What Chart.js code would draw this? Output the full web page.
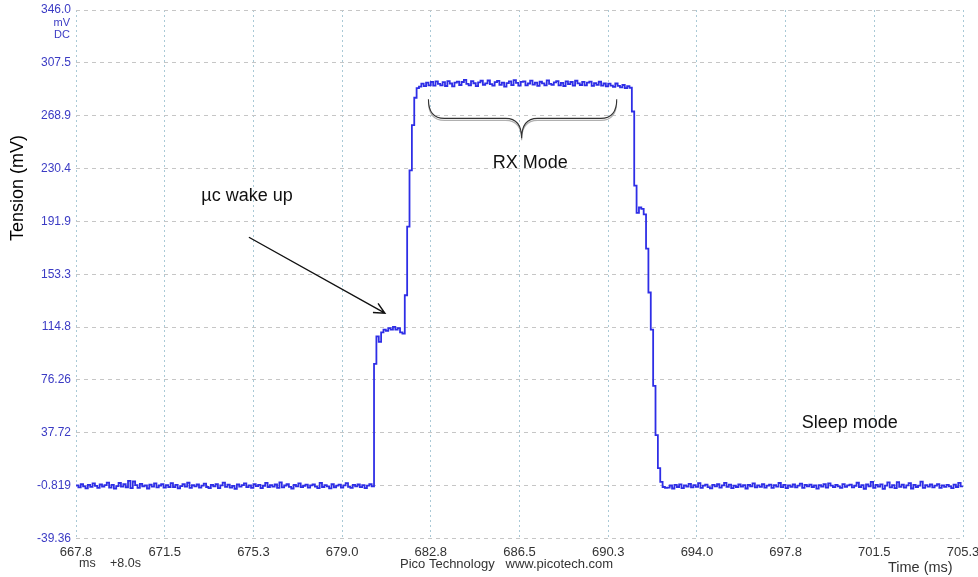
<!DOCTYPE html>
<html>
<head>
<meta charset="utf-8">
<title>Tension (mV)</title>
<script src="https://cdn.jsdelivr.net/npm/chart.js@4"></script>
<style>
  html, body { margin: 0; padding: 0; background: #fff; }
  canvas { display: block; }
</style>
</head>
<body>
<canvas id="scopeChart" width="978" height="577"></canvas>
<script>
// Capture settings (ms)
const SAMPLE_START = 667.8;
const SAMPLE_STEP = 0.1;
const X_MIN = 667.8, X_MAX = 705.3;
const Y_MIN = -39.36, Y_MAX = 346.0;

const xTickLabels = ['667.8', '671.5', '675.3', '679.0', '682.8', '686.5', '690.3', '694.0', '697.8', '701.5', '705.3'];
const yTickLabels = ['-39.36', '-0.819', '37.72', '76.26', '114.8', '153.3', '191.9', '230.4', '268.9', '307.5', '346.0'];

// Trace, in mV, one value per sample
const idleBefore = [
    -0.6, -2.1, 0.2, -1.4, -2.8, -0.3, -1.7, 0.9, -1.0, -2.5,
    0.1, -1.6, -0.5, 1.4, -2.3, -0.2, -3.0, -1.1, 1.1, -1.5,
    0.3, -2.0, 2.6, -2.7, 2.2, -0.4, -2.4, 0.4, -1.3, -0.6,
    -2.9, -0.1, -1.5, 0.8, -2.1, -0.7, 0.2, -2.3, -0.5, -1.8,
    1.0, -1.9, -0.2, -2.8, -1.2, 0.3, -1.6, 1.3, -2.5, -0.4,
    -1.4, 0.0, -2.2, -0.8, 0.7, -1.8, -2.7, -0.3, -1.3, 0.2,
    -2.6, -0.6, 1.4, -1.7, -0.1, -2.2, -1.0, -3.1, 0.1, -1.5,
    -0.5, 0.9, -1.9, -0.6, -2.4, 0.3, -1.2, -0.3, -2.7, -0.9,
    1.2, -1.8, -0.4, -1.5, 0.0, -2.5, 1.6, -2.1, -0.7, 0.2,
    -1.7, -2.9, -0.3, -1.4, 0.8, -1.9, -0.9, -0.1, -2.3, -0.6,
    0.0, -1.5, -2.6, 1.2, -1.8, -0.4, -1.3, -2.8, 0.3, -2.0,
    -0.8, -0.1, -2.2, -0.6, 1.0, -1.7, -2.5, -0.3, -1.3, 0.0,
    -1.9, -0.5, -2.7, -0.8, 0.2, -1.4
];
const wakeStep = [88, 108, 104, 111, 113, 112, 114, 113, 115, 113, 114, 111, 110];
const riseEdge = [138, 188, 229, 262, 282, 289];
const rxPlateau = [
    290.2, 292.3, 290.5, 293.1, 291.0, 293.6, 290.8, 293.9, 292.1, 291.0,
    293.4, 290.6, 294.2, 292.4, 290.3, 293.0, 293.8, 291.3, 293.5, 295.0,
    292.2, 291.0, 294.1, 292.6, 290.5, 293.3, 294.4, 291.5, 292.5, 294.6,
    292.0, 290.8, 293.4, 294.3, 291.4, 293.0, 290.2, 292.7, 293.9, 291.2,
    294.8, 292.8, 290.9, 293.6, 294.0, 291.1, 292.4, 294.5, 291.6, 293.0,
    290.7, 293.7, 292.5, 291.0, 294.7, 292.2, 291.4, 293.3, 294.2, 291.1,
    292.9, 290.6, 293.9, 292.0, 293.5, 290.9, 294.4, 292.5, 291.3, 293.6,
    291.0, 293.1, 293.8, 290.7, 292.7, 291.4, 293.7, 290.9, 292.4, 290.3,
    292.3, 290.8, 290.0, 292.4, 290.7, 289.6, 291.3, 289.0, 290.4, 289.3
];
const fallEdge = [272, 218, 198, 202, 201, 197, 172, 140, 113, 72, 36, 12, 2, -1.8, -2.5];
const sleepAfter = [
    -2.2, -0.7, -2.9, -0.2, -1.8, 0.1, -2.6, -0.6, -1.5, 0.4,
    -2.1, -0.4, -1.7, 1.0, -2.5, -0.8, -0.1, -1.9, -2.8, -0.3,
    -1.4, 0.2, -2.3, -0.6, 1.2, -1.7, -0.1, -2.6, -0.8, -1.8,
    0.0, -1.5, -0.4, -2.9, -0.2, -1.4, 0.8, -2.1, -0.6, -1.7,
    0.2, -2.2, -0.8, -0.1, -2.5, -0.5, -1.6, 1.1, -1.9, -0.3,
    -2.7, -0.6, -1.7, 0.0, -2.1, -0.8, 0.7, -2.4, -0.3, -1.4,
    -0.1, -1.8, -0.6, -3.0, -0.4, -1.6, 0.2, -2.2, 0.9, -0.8,
    -1.9, -0.2, -1.4, -2.5, 0.3, -1.7, -0.6, -0.1, -2.1, -0.9,
    1.3, -1.8, -0.4, -3.1, 0.0, -1.4, 1.9, -2.4, -0.3, -1.6,
    0.1, -3.2, -0.8, 1.5, -2.1, -0.5, -2.6, 1.7, -1.7, -0.1,
    -2.2, -0.6, 1.0, -2.9, -0.3, -1.8, -0.8, 2.1, -2.5, -0.4,
    -1.6, 0.0, -2.1, -0.8, 0.2, -2.4, -0.6, -1.7, -0.2, -1.4,
    -2.6, -0.1, -1.8, 1.2, -1.4, -0.7
];

const samples = [...idleBefore, ...wakeStep, ...riseEdge, ...rxPlateau, ...fallEdge, ...sleepAfter];
const trace = samples.map((v, i) => ({ x: SAMPLE_START + i * SAMPLE_STEP, y: v }));

const FONT = "'Liberation Sans', Arial, sans-serif";

// Notes placed in data units (ms, mV)
const notes = {
    wake: { text: 'µc wake up', t: 673.1, mv: 210.3 },
    arrowFrom: { t: 675.11, mv: 180.3 },
    arrowTo: { t: 680.86, mv: 124.9 },
    rx: { text: 'RX Mode', t: 687.0, mv: 234.3 },
    brace: { t0: 682.7, t1: 690.66, tip: 686.64, end: 281.0, body: 267.0, point: 252.4 },
    sleep: { text: 'Sleep mode', t: 698.48, mv: 44.6 }
};

const evenTicks = (min, max, n) => Array.from({ length: n + 1 }, (_, k) => ({ value: min + k * (max - min) / n }));

const overlay = {
    id: 'overlay',
    afterDraw(chart) {
        const { ctx, scales: { x, y } } = chart;
        ctx.save();

        // unit labels under the top tick
        ctx.fillStyle = '#3b3bc4';
        ctx.font = '11px ' + FONT;
        ctx.textAlign = 'right';
        ctx.textBaseline = 'middle';
        ctx.fillText('mV', 70, 23);
        ctx.fillText('DC', 70, 35);

        // axis titles and footer
        ctx.fillStyle = '#000';
        ctx.font = '18px ' + FONT;
        ctx.save();
        ctx.translate(18, 188);
        ctx.rotate(-Math.PI / 2);
        ctx.textAlign = 'center';
        ctx.fillText('Tension (mV)', 0, 0);
        ctx.restore();

        ctx.fillStyle = '#333';
        ctx.font = '12.5px ' + FONT;
        ctx.textAlign = 'left';
        ctx.fillText('ms', 79, 564);
        ctx.fillText('+8.0s', 110, 564);
        ctx.font = '13px ' + FONT;
        ctx.fillText('Pico Technology   www.picotech.com', 400, 564);
        ctx.font = '14.5px ' + FONT;
        ctx.fillText('Time (ms)', 888, 568);

        // annotations
        ctx.fillStyle = '#111';
        ctx.font = '18px ' + FONT;
        ctx.textAlign = 'left';
        ctx.fillText(notes.wake.text, x.getPixelForValue(notes.wake.t), y.getPixelForValue(notes.wake.mv));
        ctx.fillText(notes.sleep.text, x.getPixelForValue(notes.sleep.t), y.getPixelForValue(notes.sleep.mv));
        ctx.textAlign = 'center';
        ctx.fillText(notes.rx.text, x.getPixelForValue(notes.rx.t), y.getPixelForValue(notes.rx.mv));

        // arrow to the first step
        const ax0 = x.getPixelForValue(notes.arrowFrom.t), ay0 = y.getPixelForValue(notes.arrowFrom.mv);
        const ax1 = x.getPixelForValue(notes.arrowTo.t), ay1 = y.getPixelForValue(notes.arrowTo.mv);
        const ang = Math.atan2(ay1 - ay0, ax1 - ax0);
        ctx.strokeStyle = '#111';
        ctx.lineWidth = 1.4;
        ctx.beginPath();
        ctx.moveTo(ax0, ay0);
        ctx.lineTo(ax1, ay1);
        ctx.moveTo(ax1 - 12 * Math.cos(ang - 0.45), ay1 - 12 * Math.sin(ang - 0.45));
        ctx.lineTo(ax1, ay1);
        ctx.lineTo(ax1 - 12 * Math.cos(ang + 0.45), ay1 - 12 * Math.sin(ang + 0.45));
        ctx.stroke();

        // curly brace over the RX plateau
        const b = notes.brace;
        const bx0 = x.getPixelForValue(b.t0), bx1 = x.getPixelForValue(b.t1), bxt = x.getPixelForValue(b.tip);
        const by0 = y.getPixelForValue(b.end), byb = y.getPixelForValue(b.body), byt = y.getPixelForValue(b.point);
        const drawBrace = (dy) => {
            ctx.beginPath();
            ctx.moveTo(bx0, by0 + dy);
            ctx.quadraticCurveTo(bx0, byb + dy, bx0 + 16, byb + dy);
            ctx.lineTo(bxt - 16, byb + dy);
            ctx.quadraticCurveTo(bxt, byb + dy, bxt, byt + dy);
            ctx.quadraticCurveTo(bxt, byb + dy, bxt + 16, byb + dy);
            ctx.lineTo(bx1 - 16, byb + dy);
            ctx.quadraticCurveTo(bx1, byb + dy, bx1, by0 + dy);
            ctx.stroke();
        };
        ctx.lineWidth = 1.1;
        ctx.strokeStyle = '#b0b0b0';
        drawBrace(2);
        ctx.strokeStyle = '#333';
        drawBrace(0);

        ctx.restore();
    }
};

new Chart(document.getElementById('scopeChart'), {
    type: 'line',
    data: {
        datasets: [{
            data: trace,
            borderColor: '#2e2ee6',
            borderWidth: 1.8,
            pointRadius: 0,
            stepped: true,
            fill: false
        }]
    },
    options: {
        responsive: false,
        animation: false,
        devicePixelRatio: 1,
        layout: { padding: { left: 0, right: 15, top: 10, bottom: 0 } },
        plugins: { legend: { display: false }, tooltip: { enabled: false } },
        scales: {
            x: {
                type: 'linear',
                min: X_MIN,
                max: X_MAX,
                afterBuildTicks: axis => { axis.ticks = evenTicks(X_MIN, X_MAX, 10); },
                afterFit: axis => {
                    axis.height = 38.5;
                    axis.paddingLeft = 0;
                    axis.paddingRight = 0;
                },
                grid: { color: '#a9c9d6', lineWidth: 1, drawTicks: false },
                border: { display: false, dash: [2, 3] },
                ticks: {
                    autoSkip: false,
                    maxRotation: 0,
                    padding: 6,
                    color: '#333',
                    font: { family: FONT, size: 13 },
                    callback: (v, i) => xTickLabels[i]
                }
            },
            y: {
                min: Y_MIN,
                max: Y_MAX,
                afterBuildTicks: axis => { axis.ticks = evenTicks(Y_MIN, Y_MAX, 10); },
                afterFit: axis => {
                    axis.width = 76;
                    axis.paddingTop = 0;
                    axis.paddingBottom = 0;
                },
                grid: { color: '#c6c6c6', lineWidth: 1, drawTicks: false },
                border: { display: false, dash: [4, 4] },
                ticks: {
                    padding: 5,
                    color: '#3b3bc4',
                    font: { family: FONT, size: 12 },
                    callback: (v, i) => yTickLabels[i]
                }
            }
        }
    },
    plugins: [overlay]
});
</script>
</body>
</html>
